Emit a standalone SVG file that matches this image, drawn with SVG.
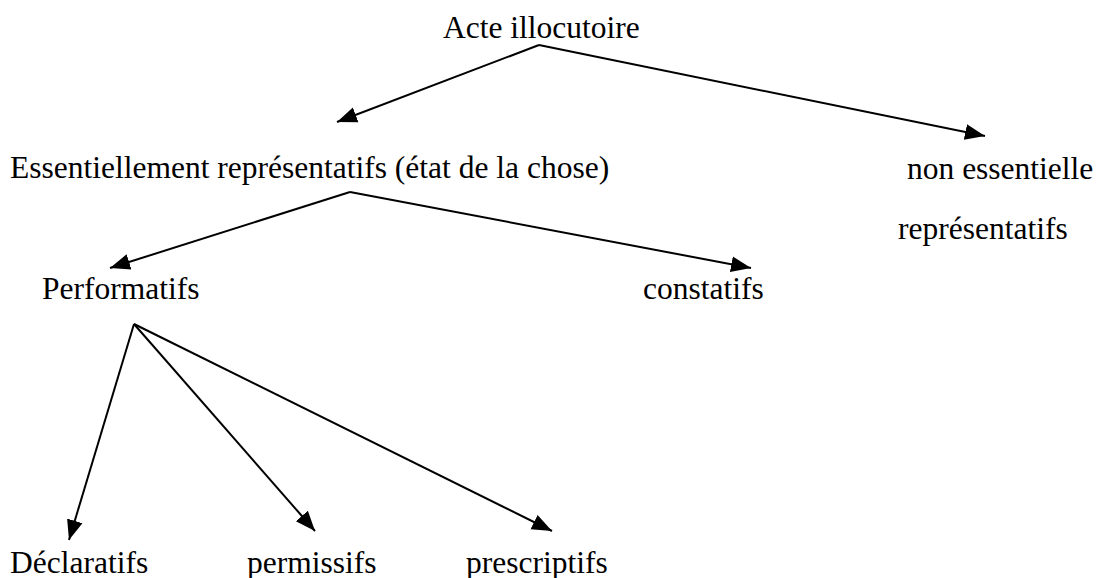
<svg xmlns="http://www.w3.org/2000/svg" width="1098" height="578" viewBox="0 0 1098 578">
<style>
text{font-family:"Liberation Serif","Times New Roman",serif;font-size:31.5px;fill:#000}
.c{stroke:#000;stroke-width:2;fill:none;marker-end:url(#ah)}
</style>
<defs>
<marker id="ah" viewBox="0 0 10 10" refX="10" refY="5" markerWidth="20" markerHeight="20" markerUnits="userSpaceOnUse" orient="auto">
<path d="M0,1L10,5L0,9z" fill="#000"/>
</marker>
</defs>
<rect width="1098" height="578" fill="#fff"/>
<g id="connectors">
<path class="c" d="M539,45L337,122"/>
<path class="c" d="M539,45L985,136"/>
<path class="c" d="M350,192L110,268"/>
<path class="c" d="M350,192L751,268"/>
<path class="c" d="M134,324L69,540"/>
<path class="c" d="M134,324L315,531"/>
<path class="c" d="M134,324L552,531"/>
</g>
<g id="n-acte"><text x="443" y="38">Acte illocutoire</text></g>
<g id="n-essentiel"><text x="10" y="178">Essentiellement représentatifs (état de la chose)</text></g>
<g id="n-non"><text x="907" y="179">non essentielle</text><text x="898" y="239">représentatifs</text></g>
<g id="n-perf"><text x="42" y="299">Performatifs</text></g>
<g id="n-const"><text x="643" y="299">constatifs</text></g>
<g id="n-decl"><text x="10" y="573">Déclaratifs</text></g>
<g id="n-perm"><text x="247" y="573">permissifs</text></g>
<g id="n-presc"><text x="466" y="573">prescriptifs</text></g>
</svg>
